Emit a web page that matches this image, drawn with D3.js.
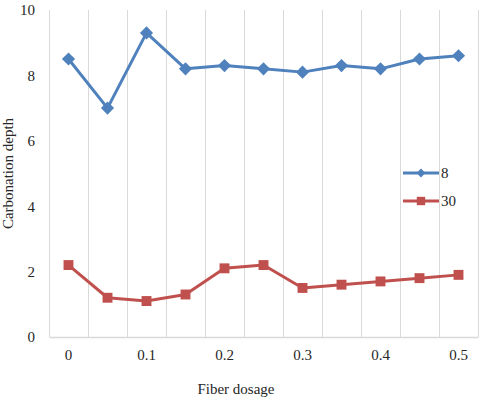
<!DOCTYPE html>
<html>
<head>
<meta charset="utf-8">
<script src="https://cdn.jsdelivr.net/npm/d3@7"></script>
<style>
svg text, .lbl { font-family: 'Liberation Serif', 'Times New Roman', serif !important; }
</style>
</head>
<body style="margin:0;background:#fff">
<script>
// data
var dosage = ['0','0.05','0.1','0.15','0.2','0.25','0.3','0.35','0.4','0.45','0.5'];
var depth8 = [8.5,7.0,9.3,8.2,8.3,8.2,8.1,8.3,8.2,8.5,8.6];
var depth30 = [2.2,1.2,1.1,1.3,2.1,2.2,1.5,1.6,1.7,1.8,1.9];
var yTicks = [0,2,4,6,8,10];
var seriesNames = ['8','30'];

var W = 480, H = 397;
var margin = {t:10,r:2,b:60,l:49};
var width = W-margin.l-margin.r,
	height = H-margin.t-margin.b;

var svg = d3.select('body').append('svg')
	.attr('width',W).attr('height',H);

var plot = svg.append('g')
	.attr('transform','translate('+margin.l+','+margin.t+')');

var scaleX = d3.scaleBand().domain(dosage).range([0,width]);
var scaleY = d3.scaleLinear().domain([0,10]).range([height,0]);

// vertical gridlines at category boundaries
var bounds = dosage.map(function(d){return scaleX(d);}).concat([width]);
plot.selectAll('.grid')
	.data(bounds)
	.enter().append('line').attr('class','grid')
	.attr('x1',function(d){return Math.round(d)+0.5;})
	.attr('x2',function(d){return Math.round(d)+0.5;})
	.attr('y1',0).attr('y2',height)
	.attr('stroke','#d9d9d9').attr('stroke-width',1);

// x axis
var xAxis = d3.axisBottom(scaleX)
	.tickValues(dosage.filter(function(d,i){return i%2==0;}))
	.tickSize(0).tickPadding(12);
var gx = plot.append('g').attr('transform','translate(0,'+height+')').call(xAxis)
	.attr('font-size',15);
gx.select('.domain').attr('stroke','#d9d9d9').attr('stroke-width',1.5);
gx.selectAll('text').attr('class','lbl').attr('fill','#262626');

// y axis
var yAxis = d3.axisLeft(scaleY).tickValues(yTicks).tickSize(0).tickPadding(14);
var gy = plot.append('g').call(yAxis)
	.attr('font-size',15);
gy.select('.domain').remove();
gy.selectAll('text').attr('class','lbl').attr('fill','#262626');

// titles
svg.append('text').attr('class','lbl')
	.attr('x',236).attr('y',394)
	.attr('text-anchor','middle')
	.attr('font-size',15).attr('fill','#262626')
	.text('Fiber dosage');

svg.append('text').attr('class','lbl')
	.attr('transform','translate(13,'+(margin.t+height/2)+') rotate(-90)')
	.attr('text-anchor','middle')
	.attr('font-size',15).attr('fill','#262626')
	.text('Carbonation depth');

var line = d3.line()
	.x(function(d,i){return scaleX(dosage[i])+scaleX.bandwidth()/2;})
	.y(function(d){return scaleY(d);});

var colors = ['#4f81bd','#c0504d'];
var diamond = d3.symbol().type(d3.symbolDiamond2).size(110);
var square = d3.symbol().type(d3.symbolSquare2).size(125);

function drawSeries(vals,color,sym){
	plot.append('path').datum(vals)
		.attr('d',line)
		.attr('fill','none')
		.attr('stroke',color)
		.attr('stroke-width',3)
		.attr('stroke-linejoin','round');
	plot.selectAll(null).data(vals).enter()
		.append('path')
		.attr('d',sym)
		.attr('transform',function(d,i){
			return 'translate('+(scaleX(dosage[i])+scaleX.bandwidth()/2)+','+scaleY(d)+')';
		})
		.attr('fill',color);
}
drawSeries(depth8,colors[0],diamond);
drawSeries(depth30,colors[1],square);

// legend
var legend = svg.append('g');
var legSym = [d3.symbol().type(d3.symbolDiamond2).size(50), d3.symbol().type(d3.symbolSquare2).size(90)];
seriesNames.forEach(function(name,i){
	var y = 173+i*28;
	legend.append('line')
		.attr('x1',403).attr('x2',439)
		.attr('y1',y).attr('y2',y)
		.attr('stroke',colors[i]).attr('stroke-width',3);
	legend.append('path')
		.attr('d',legSym[i])
		.attr('transform','translate(421,'+y+')')
		.attr('fill',colors[i]);
	legend.append('text').attr('class','lbl')
		.attr('x',441).attr('y',y+5)
		.attr('font-size',15).attr('fill','#262626')
		.text(name);
});
</script>
</body>
</html>
